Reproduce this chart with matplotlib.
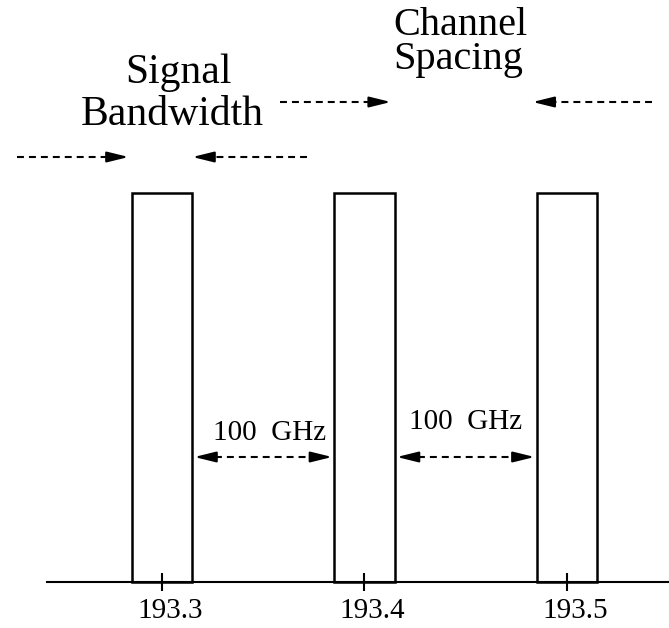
import matplotlib
matplotlib.use("Agg")
import matplotlib.pyplot as plt
import matplotlib.transforms as mtransforms
from matplotlib.patches import Rectangle

plt.rcParams['lines.scale_dashes'] = False
plt.rcParams['font.family'] = ['Liberation Serif', 'DejaVu Serif']

# ---- data ----
channels = [193.3, 193.4, 193.5]          # THz
tick_labels = ["193.3", "193.4", "193.5"]
bandwidth = 0.03                           # THz (signal bandwidth)
spacing_label = "100  GHz"
channel_height = 389                       # arbitrary amplitude units

W, H = 669, 628
fig = plt.figure(figsize=(W / 100, H / 100), dpi=100)
ax = fig.add_axes([0, 0, 1, 1])
xmin, xmax = 193.22, 193.5504
ymin, ymax = -46, 582
ax.set_xlim(xmin, xmax)
ax.set_ylim(ymin, ymax)


def fx(px):
    return xmin + px / W * (xmax - xmin)


def fy(py):
    return ymax - py / H * (ymax - ymin)


lw = 1.5
# channels
for c in channels:
    ax.add_patch(Rectangle((c - bandwidth / 2, 0), bandwidth, channel_height,
                           fill=False, edgecolor='black', lw=1.8))

# axis
for s in ['top', 'left', 'right']:
    ax.spines[s].set_visible(False)
ax.spines['bottom'].set_position(('data', 0))
ax.spines['bottom'].set_bounds(fx(47), xmax)
ax.spines['bottom'].set_linewidth(lw)
ax.set_yticks([])
ax.set_xticks(channels)
ax.set_xticklabels(tick_labels, fontsize=21)
ax.tick_params(axis='x', direction='inout', length=12.5, width=lw, pad=5)
off = mtransforms.ScaledTranslation(8 / 100, 0, fig.dpi_scale_trans)
for lab in ax.get_xticklabels():
    lab.set_transform(lab.get_transform() + off)

head_len = fx(18) - fx(0)
dash = dict(color='black', lw=lw, dashes=(5, 3.6), solid_capstyle='butt',
            dash_capstyle='butt')
astyle = dict(arrowstyle='-|>,head_length=1.3,head_width=0.32', color='black',
              lw=lw, shrinkA=0, shrinkB=0, mutation_scale=10)


def head(tip, d, y):
    ax.annotate('', xy=(tip, y), xytext=(tip - d * head_len, y), arrowprops=astyle)


def arrow(tail, tip, y):
    d = 1 if tip > tail else -1
    ax.plot([tail, tip - d * head_len * 0.5], [y, y], **dash)
    head(tip, d, y)


def darrow(a, b, y):
    ax.plot([a + head_len * 0.5, b - head_len * 0.5], [y, y], **dash)
    head(a, -1, y)
    head(b, 1, y)


arrow_len = fx(115) - fx(0)
# signal bandwidth arrows
c0 = channels[0]
y_bw = fy(157)
arrow(c0 - bandwidth / 2 - arrow_len, c0 - bandwidth / 2 - fx(3) + fx(0), y_bw)
arrow(c0 + bandwidth / 2 + arrow_len, c0 + bandwidth / 2, y_bw)
# channel spacing arrows
y_cs = fy(102)
arrow(channels[1] + bandwidth / 2 - arrow_len, channels[1] + bandwidth / 2 - (fx(4) - fx(0)), y_cs)
arrow(channels[2] - bandwidth / 2 + arrow_len, channels[2] - bandwidth / 2 - (fx(4) - fx(0)), y_cs)

# 100 GHz arrows
y_g = fy(457)
for i in range(len(channels) - 1):
    darrow(channels[i] + bandwidth / 2 + (fx(2) - fx(0)),
           channels[i + 1] - bandwidth / 2 - (fx(2) - fx(0)), y_g)
ax.text(fx(270), fy(433), spacing_label, fontsize=21, ha='center', va='center')
ax.text(fx(466), fy(422), spacing_label, fontsize=21, ha='center', va='center')

# labels
ax.text(fx(178), fy(83), "Signal", fontsize=30, ha='center', va='baseline')
ax.text(fx(172), fy(125), "Bandwidth", fontsize=30, ha='center', va='baseline')
ax.text(fx(393), fy(35), "Channel", fontsize=29, ha='left', va='baseline')
ax.text(fx(393), fy(69), "Spacing", fontsize=29, ha='left', va='baseline')

fig.savefig("out.png", dpi=100)
